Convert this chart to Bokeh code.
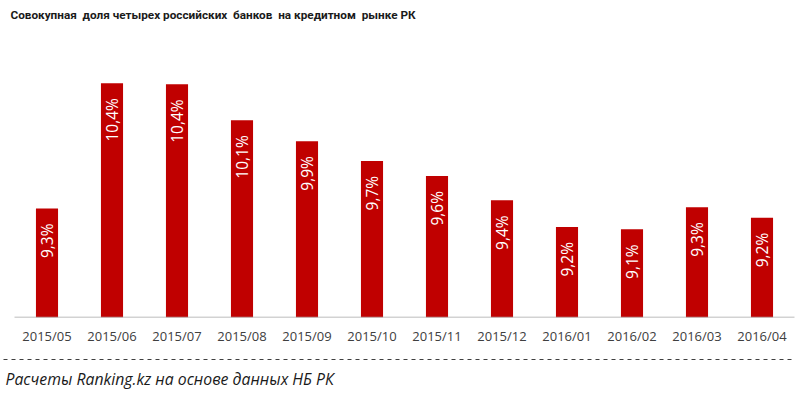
import math
from bokeh.plotting import figure
from bokeh.models import ColumnDataSource, Range1d, FixedTicker
from bokeh.layouts import column
from bokeh.core.properties import value
from bokeh.embed import file_html
from bokeh.resources import INLINE

# ---- data ----
months = ["2015/05", "2015/06", "2015/07", "2015/08", "2015/09", "2015/10",
          "2015/11", "2015/12", "2016/01", "2016/02", "2016/03", "2016/04"]
share = [9.32, 10.40, 10.39, 10.08, 9.90, 9.73, 9.60, 9.39, 9.16, 9.14, 9.33, 9.24]
labels = [f"{v:.1f}%".replace(".", ",") for v in share]

title_text = "Совокупная\u00a0 доля четырех российских\u00a0 банков\u00a0 на кредитном\u00a0 рынке РК"
source_text = "Расчеты Ranking.kz на основе данных НБ РК"

FONT = "Open Sans"
BASE = 8.38
W = 800
idx = list(range(len(months)))

src = ColumnDataSource(dict(x=idx, v=share, lab=labels))

def blank(height, yr):
    fig = figure(width=W, height=height, x_range=Range1d(0, W), y_range=yr,
                 output_backend="svg", toolbar_location=None,
                 x_axis_location=None, y_axis_location=None,
                 min_border=0, min_border_left=0, min_border_right=0,
                 min_border_top=0, min_border_bottom=0)
    fig.grid.visible = False
    fig.outline_line_color = None
    return fig

# header with the title (page coordinates)
h = blank(38, Range1d(38, 0))
h.text(x=[10], y=[14], text=[title_text], text_font=value("Roboto"),
       text_font_size="11.75px", text_font_style="bold", text_color="#1a1a1a",
       text_baseline="middle", text_align="left")

# chart: 65 px per category, first category centred at x=46.5 px
band = 65.0
x0 = -46.5 / band
p = figure(x_range=Range1d(x0, x0 + W / band), y_range=Range1d(BASE, BASE + 279 / 116),
           width=W, height=319, output_backend="svg", toolbar_location=None,
           y_axis_location=None,
           min_border_left=0, min_border_right=0, min_border_top=0, min_border_bottom=40)

p.vbar(x="x", top="v", bottom=BASE, width=0.34, source=src,
       fill_color="#C00000", line_color=None)
p.text(x="x", y="v", text="lab", source=src, angle=math.pi / 2,
       text_align="right", text_baseline="middle", y_offset=15,
       text_color="white", text_font=value(FONT), text_font_size="15.5px")
# category baseline across the bands
p.line(x=[idx[0] - 0.5, idx[-1] + 0.5], y=[BASE, BASE], line_color="#a6a6a6", line_width=1.5)

p.xgrid.visible = False
p.ygrid.visible = False
p.outline_line_color = None
p.background_fill_color = "white"
p.border_fill_color = "white"
ax = p.xaxis[0]
ax.ticker = FixedTicker(ticks=idx)
ax.major_label_overrides = {i: m for i, m in zip(idx, months)}
ax.axis_line_color = None
ax.major_tick_line_color = None
ax.minor_tick_line_color = None
ax.major_label_standoff = 3
ax.major_label_text_font = FONT
ax.major_label_text_font_size = "13px"
ax.major_label_text_color = "#404040"

# footer (page coordinates)
f = blank(36, Range1d(393, 357))
f.line(x=[3, 793], y=[359, 359], line_color="#404040", line_width=1.2, line_dash="4 4")
f.text(x=[5], y=[378], text=[source_text], text_font=value(FONT), text_font_size="15.8px",
       text_font_style="italic", text_color="#1a1a1a", text_baseline="middle", text_align="left")

layout = column(h, p, f, spacing=0)
open("out.html", "w").write(file_html(layout, INLINE))
